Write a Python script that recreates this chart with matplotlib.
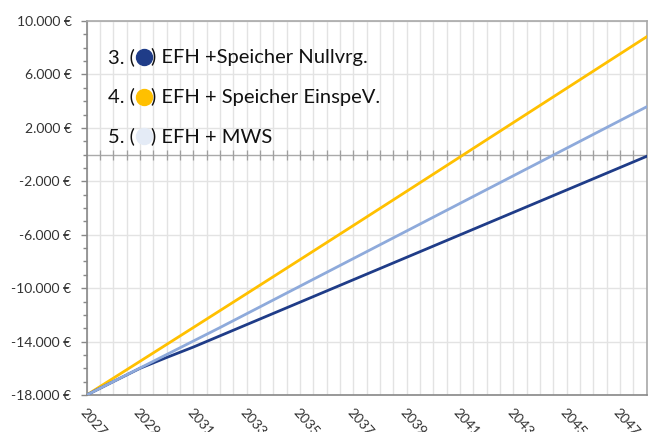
import matplotlib
matplotlib.use("Agg")
import numpy as np
import matplotlib.pyplot as plt
from matplotlib.ticker import MultipleLocator, FuncFormatter

plt.rcParams['font.family'] = ['Lato', 'DejaVu Sans']

years = list(range(2027, 2049))
speicher_nullvrg = [-18000, -16995, -16000, -15190, -14410, -13570, -12730, -11890, -11050, -10210, -9370,
                    -8530, -7690, -6850, -6010, -5170, -4330, -3490, -2650, -1810, -970, -130]
speicher_einspev = [-18000, -16740, -15478, -14214, -12948, -11680, -10410, -9138, -7864, -6588, -5310,
                    -4030, -2748, -1464, -178, 1110, 2395, 3680, 4965, 6250, 7535, 8820]
mws = [-18000, -16990, -15980, -14970, -13960, -12950, -11917, -10884, -9851, -8818, -7785,
       -6752, -5719, -4686, -3653, -2620, -1587, -554, 479, 1512, 2545, 3578]

series_names = ["EFH +Speicher Nullvrg.", "EFH + Speicher EinspeV.", "EFH + MWS"]
series_nums = ["3.", "4.", "5."]
line_colors = ["#1F3C88", "#FFC000", "#8EAADB"]
legend_dot_colors = ["#1F3C88", "#FFC000", "#E4EBF6"]

fig = plt.figure(figsize=(6.55, 4.32), dpi=100)
ax = fig.add_axes([0.1323, 0.0856, 0.8550, 0.8658])

# grid
ax.set_axisbelow(True)
ax.xaxis.set_major_locator(MultipleLocator(2, offset=1))
ax.xaxis.set_minor_locator(MultipleLocator(0.5))
ax.yaxis.set_major_locator(MultipleLocator(4000, offset=2000))
ax.yaxis.set_minor_locator(MultipleLocator(1000))
ax.grid(True, which='both', axis='x', color='#e3e3e3', linewidth=1.0)
ax.grid(True, which='major', axis='y', color='#e3e3e3', linewidth=1.0)

# zero axis line with small crossing ticks every half year
ax.axhline(0, color='#aaaaaa', linewidth=1.0, zorder=1.5)
half_years = np.arange(2027.5, 2048, 0.5)
ax.plot(half_years, np.zeros_like(half_years), linestyle='none', marker='|',
        markersize=7, markeredgewidth=0.9, color='#a0a0a0', zorder=1.6)

ax.plot(years, speicher_einspev, color=line_colors[1], linewidth=2.0, zorder=3)
ax.plot(years, speicher_nullvrg, color=line_colors[0], linewidth=2.0, zorder=3)
ax.plot(years, mws, color=line_colors[2], linewidth=2.0, zorder=4)

ax.set_xlim(2027, 2048)
ax.set_ylim(-18000, 10000)

def euro(v, pos):
    return f"{int(round(v)):,} €".replace(",", ".")

ax.yaxis.set_major_formatter(FuncFormatter(euro))
ax.tick_params(axis='y', which='major', length=4, width=1, color='#888888',
               labelsize=10, labelcolor='#333333', pad=7)
ax.tick_params(axis='y', which='minor', length=3, width=1, color='#888888')
ax.tick_params(axis='x', which='both', length=0, labelsize=10, labelcolor='#333333', pad=8)
for lbl in ax.get_xticklabels():
    lbl.set_rotation(-48)
    lbl.set_ha('left')
    lbl.set_va('top')
    lbl.set_rotation_mode('anchor')

for side in ['top', 'right']:
    ax.spines[side].set_color('#a8a8a8')
ax.spines['left'].set_color('#888888')
ax.spines['bottom'].set_color('#888888')
for s in ax.spines.values():
    s.set_linewidth(1.2)

# legend as text rows
for i in range(3):
    y_px = 63 + i * 39.5
    y = 1 - y_px / 432
    fig.text(108 / 655, y, series_nums[i] + " (", fontsize=14.5, color='#111111', va='baseline')
    fig.text(151 / 655, y, ") " + series_names[i], fontsize=14.5, color='#111111', va='baseline')
    fig.lines.append(plt.Line2D([143.5 / 655], [1 - (y_px - 6) / 432], marker='o', markersize=11.5,
                                color=legend_dot_colors[i], transform=fig.transFigure))

fig.savefig("out.png", dpi=100)
